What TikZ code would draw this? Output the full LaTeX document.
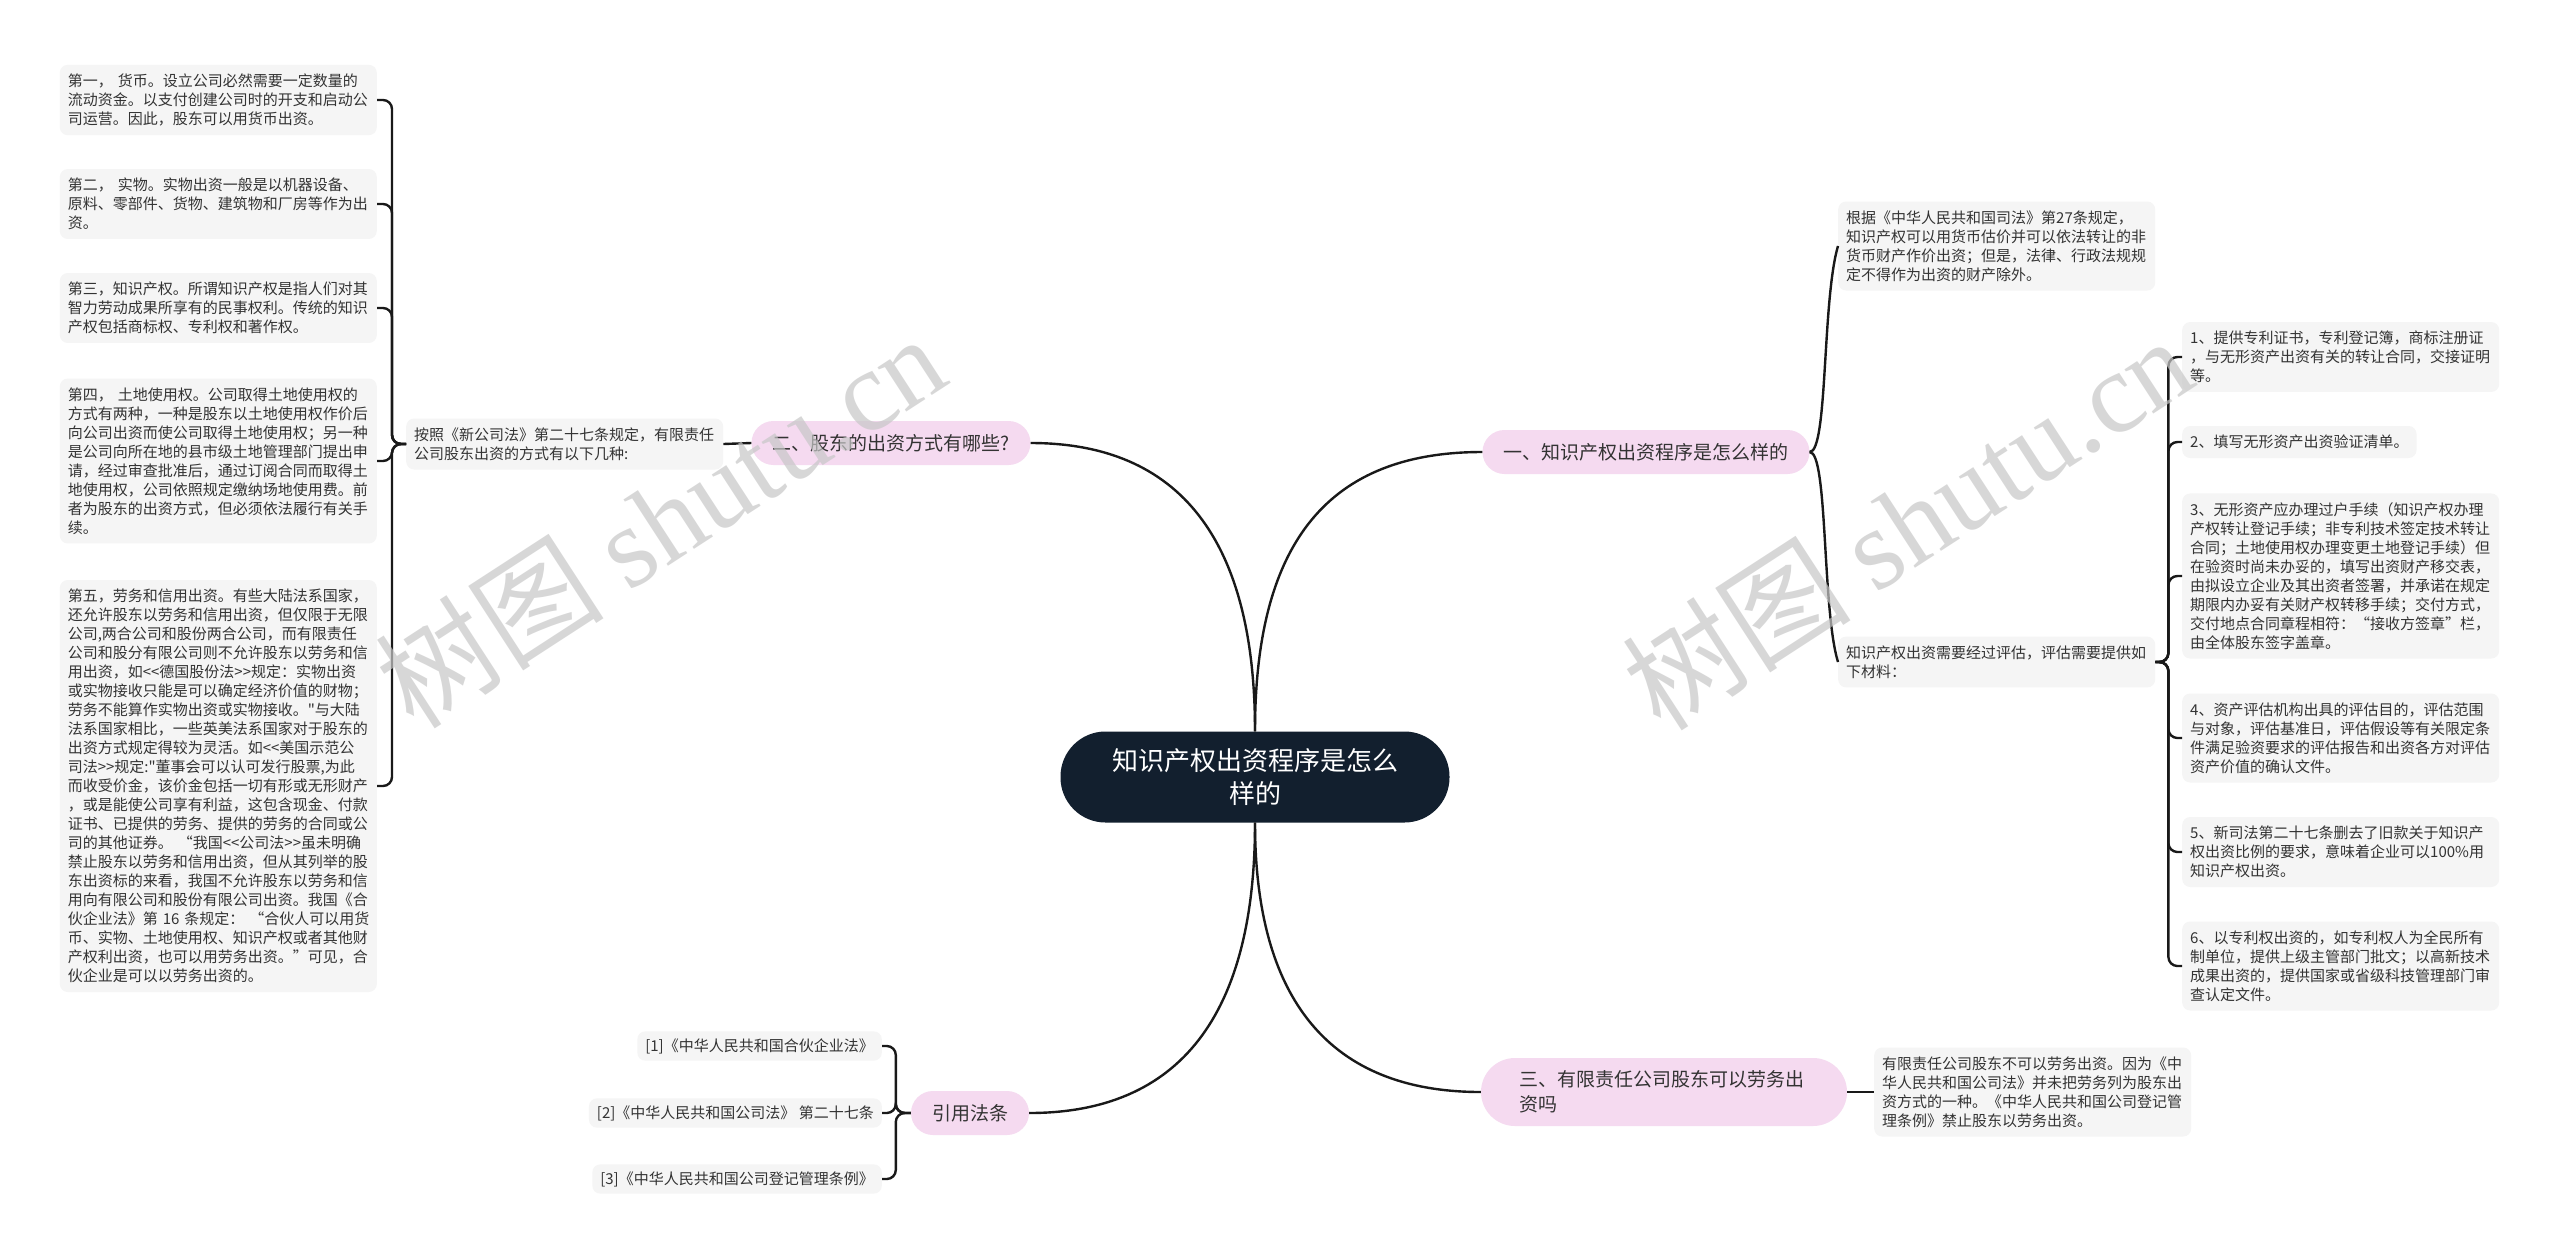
\documentclass[tikz,border=0pt]{standalone}
\usepackage{fontspec}
\setmainfont{Noto Sans CJK SC}
\newfontfamily\cjk{Noto Sans CJK SC}
\newfontfamily\wmserif{Liberation Serif}
\definecolor{leafbg}{RGB}{245,245,245}
\definecolor{pinkbg}{RGB}{245,218,240}
\definecolor{navy}{RGB}{18,31,46}
\definecolor{txt}{RGB}{51,51,51}
\definecolor{wirec}{RGB}{25,25,25}
\begin{document}
\begin{tikzpicture}[x=1pt,y=-1pt,
  leaf/.style={fill=leafbg, rounded corners=8pt, text=txt, font=\cjk\fontsize{15}{19}\selectfont, inner xsep=8pt, inner ysep=9pt, align=left},
  leafw/.style={leaf, text width=301pt},
  branch/.style={fill=pinkbg, rounded corners=22pt, text=txt, font=\cjk\fontsize{19}{25}\selectfont, inner xsep=21pt, minimum height=44pt},
  rootnode/.style={fill=navy, text=white, font=\cjk\fontsize{26}{33}\selectfont, align=center, minimum width=389pt, minimum height=91pt, rounded corners=45pt},
  wire/.style={draw=wirec, line width=2.4pt, rounded corners=9pt},
  curv/.style={draw=wirec, line width=2.4pt},
  wmark/.style={rotate=33, text=black!22, opacity=0.7, font=\cjk\fontsize{115}{115}\selectfont}
]
\fill[white] (0,0) rectangle (2560,1259);
\useasboundingbox (0,0) rectangle (2560,1259);

% root and branches
\node[rootnode] (c) at (1255,777) {知识产权出资程序是怎么\\样的};
\node[branch] (b2) at (891,443) {二、股东的出资方式有哪些?};
\node[branch] (b1) at (1646,452) {一、知识产权出资程序是怎么样的};
\node[branch, align=left, text width=290pt, inner xsep=38pt, minimum height=68pt, rounded corners=34pt] (b3) at (1664,1092) {三、有限责任公司股东可以劳务出\\资吗};
\node[branch] (b4) at (970,1113) {引用法条};

% left leaves
\node[leafw, anchor=west] (l0) at (406,444) {按照《新公司法》第二十七条规定，有限责任\\公司股东出资的方式有以下几种:};
\node[leafw, anchor=east] (l1) at (377,100) {第一，~货币。设立公司必然需要一定数量的\\流动资金。以支付创建公司时的开支和启动公\\司运营。因此，股东可以用货币出资。};
\node[leafw, anchor=east] (l2) at (377,204) {第二，~实物。实物出资一般是以机器设备、\\原料、零部件、货物、建筑物和厂房等作为出\\资。};
\node[leafw, anchor=east] (l3) at (377,308) {第三，知识产权。所谓知识产权是指人们对其\\智力劳动成果所享有的民事权利。传统的知识\\产权包括商标权、专利权和著作权。};
\node[leafw, anchor=east] (l4) at (377,461) {第四，~土地使用权。公司取得土地使用权的\\方式有两种，一种是股东以土地使用权作价后\\向公司出资而使公司取得土地使用权；另一种\\是公司向所在地的县市级土地管理部门提出申\\请，经过审查批准后，通过订阅合同而取得土\\地使用权，公司依照规定缴纳场地使用费。前\\者为股东的出资方式，但必须依法履行有关手\\续。};
\node[leafw, anchor=east] (l5) at (377,786) {第五，劳务和信用出资。有些大陆法系国家，\\还允许股东以劳务和信用出资，但仅限于无限\\公司,两合公司和股份两合公司，而有限责任\\公司和股分有限公司则不允许股东以劳务和信\\用出资，如<<德国股份法>>规定：实物出资\\或实物接收只能是可以确定经济价值的财物；\\劳务不能算作实物出资或实物接收。"与大陆\\法系国家相比，一些英美法系国家对于股东的\\出资方式规定得较为灵活。如<<美国示范公\\司法>>规定:"董事会可以认可发行股票,为此\\而收受价金，该价金包括一切有形或无形财产\\，或是能使公司享有利益，这包含现金、付款\\证书、已提供的劳务、提供的劳务的合同或公\\司的其他证券。~“我国<<公司法>>虽未明确\\禁止股东以劳务和信用出资，但从其列举的股\\东出资标的来看，我国不允许股东以劳务和信\\用向有限公司和股份有限公司出资。我国《合\\伙企业法》第~16~条规定：~“合伙人可以用货\\币、实物、土地使用权、知识产权或者其他财\\产权利出资，也可以用劳务出资。”可见，合\\伙企业是可以以劳务出资的。};

% references
\node[leaf, inner ysep=7pt, anchor=east] (f1) at (882,1046) {{}[1]《中华人民共和国合伙企业法》};
\node[leaf, inner ysep=7pt, anchor=east] (f2) at (882,1113) {{}[2]《中华人民共和国公司法》~第二十七条};
\node[leaf, inner ysep=7pt, anchor=east] (f3) at (882,1179) {{}[3]《中华人民共和国公司登记管理条例》};

% right leaves
\node[leafw, anchor=west] (r0) at (1838,246) {根据《中华人民共和国司法》第27条规定，\\知识产权可以用货币估价并可以依法转让的非\\货币财产作价出资；但是，法律、行政法规规\\定不得作为出资的财产除外。};
\node[leafw, anchor=west] (re) at (1838,662) {知识产权出资需要经过评估，评估需要提供如\\下材料：};
\node[leafw, anchor=west] (r1) at (2182,357) {1、提供专利证书，专利登记簿，商标注册证\\，与无形资产出资有关的转让合同，交接证明\\等。};
\node[leaf, anchor=west] (r2) at (2182,442) {2、填写无形资产出资验证清单。};
\node[leafw, anchor=west] (r3) at (2182,576) {3、无形资产应办理过户手续（知识产权办理\\产权转让登记手续；非专利技术签定技术转让\\合同；土地使用权办理变更土地登记手续）但\\在验资时尚未办妥的，填写出资财产移交表，\\由拟设立企业及其出资者签署，并承诺在规定\\期限内办妥有关财产权转移手续；交付方式，\\交付地点合同章程相符：“接收方签章”栏，\\由全体股东签字盖章。};
\node[leafw, anchor=west] (r4) at (2182,738) {4、资产评估机构出具的评估目的，评估范围\\与对象，评估基准日，评估假设等有关限定条\\件满足验资要求的评估报告和出资各方对评估\\资产价值的确认文件。};
\node[leafw, anchor=west] (r5) at (2182,852) {5、新司法第二十七条删去了旧款关于知识产\\权出资比例的要求，意味着企业可以100\%用\\知识产权出资。};
\node[leafw, anchor=west] (r6) at (2182,966) {6、以专利权出资的，如专利权人为全民所有\\制单位，提供上级主管部门批文；以高新技术\\成果出资的，提供国家或省级科技管理部门审\\查认定文件。};
\node[leafw, anchor=west] (t3) at (1874,1092) {有限责任公司股东不可以劳务出资。因为《中\\华人民共和国公司法》并未把劳务列为股东出\\资方式的一种。《中华人民共和国公司登记管\\理条例》禁止股东以劳务出资。};

% root connectors
\draw[curv] (c.north) .. controls (1255,540) and (1330,452) .. (b1.west);
\draw[curv] (c.north) .. controls (1255,540) and (1180,443) .. (b2.east);
\draw[curv] (c.south) .. controls (1255,1000) and (1330,1092) .. (b3.west);
\draw[curv] (c.south) .. controls (1255,1015) and (1180,1113) .. (b4.east);

% left side
\draw[wire] (b2.west) -- (l0.east);
\foreach \n in {l1,l2,l3,l4,l5} \draw[wire] (l0.west) -- ++(-14,0) |- (\n.east);
\foreach \n in {f1,f2,f3} \draw[wire] (b4.west) -- ++(-15,0) |- (\n.east);

% right side
\draw[curv] (b1.east) .. controls (1828,452) and (1822,300) .. (r0.west);
\draw[curv] (b1.east) .. controls (1828,452) and (1822,610) .. (re.west);
\foreach \n in {r1,r2,r3,r4,r5,r6} \draw[wire] (re.east) -- ++(13,0) |- (\n.west);
\draw[wire] (b3.east) -- (t3.west);

% watermarks
\node[wmark] (w1) at (660,520) {树图~{\wmserif shutu.cn}};
\node[wmark] (w2) at (1907,522) {树图~{\wmserif shutu.cn}};
\end{tikzpicture}
\end{document}
